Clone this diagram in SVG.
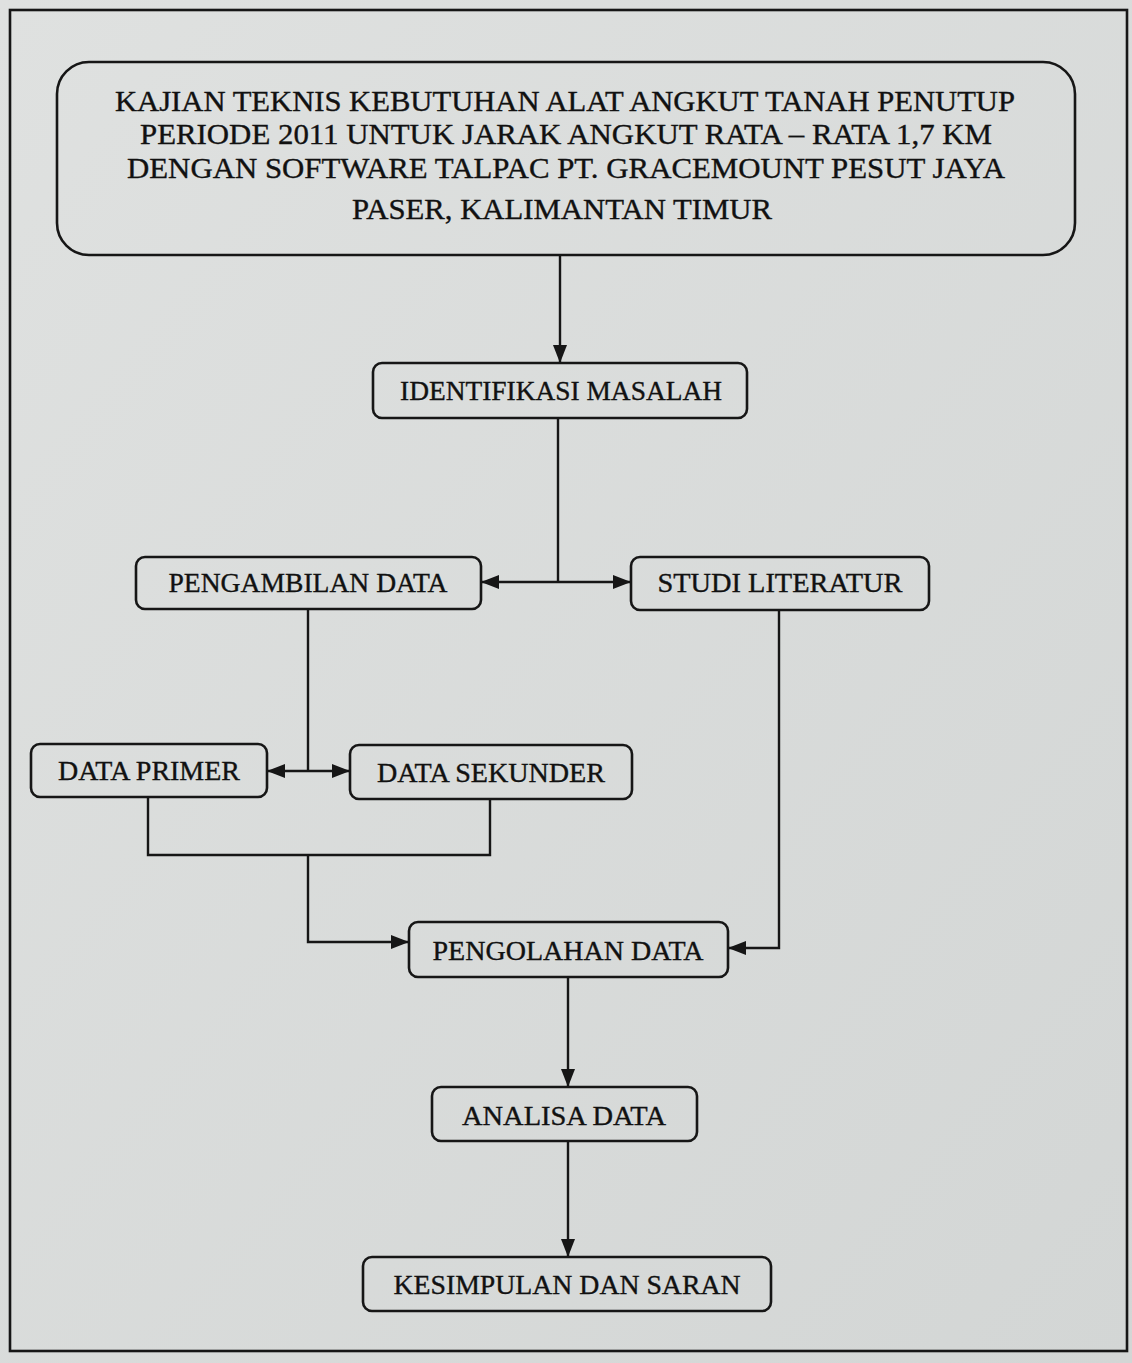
<svg xmlns="http://www.w3.org/2000/svg" width="1132" height="1363" viewBox="0 0 1132 1363">
<defs>
<style>
.box{fill:none;stroke:#161616;stroke-width:2.6}
.ln{fill:none;stroke:#161616;stroke-width:2.4}
.t{font-family:"Liberation Serif","Times New Roman",serif;font-size:27px;fill:#111;stroke:#111;stroke-width:0.35;text-anchor:middle}
.tt{font-size:29px}
</style>
<marker id="ah" viewBox="0 0 18 14" refX="17" refY="7" markerWidth="18" markerHeight="14" markerUnits="userSpaceOnUse" orient="auto">
<path d="M0,0 L18,7 L0,14 Z" fill="#161616"/>
</marker>
<linearGradient id="bg" x1="0" y1="0" x2="1" y2="1">
<stop offset="0" stop-color="#dfe1e0"/>
<stop offset="1" stop-color="#d3d6d5"/>
</linearGradient>
</defs>
<rect x="0" y="0" width="1132" height="1363" fill="url(#bg)"/>
<rect x="10" y="10" width="1117" height="1341" fill="none" stroke="#161616" stroke-width="2.6"/>

<g id="connectors">
<line class="ln" x1="560" y1="256" x2="560" y2="362" marker-end="url(#ah)"/>
<line class="ln" x1="558" y1="418" x2="558" y2="582"/>
<line class="ln" x1="558" y1="582" x2="482" y2="582" marker-end="url(#ah)"/>
<line class="ln" x1="558" y1="582" x2="630" y2="582" marker-end="url(#ah)"/>
<line class="ln" x1="308" y1="609" x2="308" y2="771"/>
<line class="ln" x1="308" y1="771" x2="268" y2="771" marker-end="url(#ah)"/>
<line class="ln" x1="308" y1="771" x2="349" y2="771" marker-end="url(#ah)"/>
<polyline class="ln" points="148,797 148,855 490,855 490,799"/>
<polyline class="ln" points="308,855 308,942 408,942" marker-end="url(#ah)"/>
<polyline class="ln" points="779,610 779,948 729,948" marker-end="url(#ah)"/>
<line class="ln" x1="568" y1="977" x2="568" y2="1086" marker-end="url(#ah)"/>
<line class="ln" x1="568" y1="1141" x2="568" y2="1256" marker-end="url(#ah)"/>
</g>

<g id="title">
<rect class="box" x="57" y="62" width="1018" height="193" rx="32"/>
<text class="t tt" x="565" y="111" textLength="900" lengthAdjust="spacingAndGlyphs">KAJIAN TEKNIS KEBUTUHAN ALAT ANGKUT TANAH PENUTUP</text>
<text class="t tt" x="566" y="144" textLength="852" lengthAdjust="spacingAndGlyphs">PERIODE 2011 UNTUK JARAK ANGKUT RATA – RATA 1,7 KM</text>
<text class="t tt" x="566" y="178" textLength="878" lengthAdjust="spacingAndGlyphs">DENGAN SOFTWARE TALPAC PT. GRACEMOUNT PESUT JAYA</text>
<text class="t tt" x="562" y="219" textLength="420" lengthAdjust="spacingAndGlyphs">PASER, KALIMANTAN TIMUR</text>
</g>

<g id="identifikasi">
<rect class="box" x="373" y="363" width="374" height="55" rx="9"/>
<text class="t" x="561" y="400" textLength="322" lengthAdjust="spacingAndGlyphs">IDENTIFIKASI MASALAH</text>
</g>

<g id="pengambilan">
<rect class="box" x="136" y="557" width="345" height="52" rx="9"/>
<text class="t" x="308" y="592" textLength="279" lengthAdjust="spacingAndGlyphs">PENGAMBILAN DATA</text>
</g>

<g id="studi">
<rect class="box" x="631" y="557" width="298" height="53" rx="9"/>
<text class="t" x="780" y="592" textLength="245" lengthAdjust="spacingAndGlyphs">STUDI LITERATUR</text>
</g>

<g id="primer">
<rect class="box" x="31" y="744" width="236" height="53" rx="9"/>
<text class="t" x="149" y="780" textLength="182" lengthAdjust="spacingAndGlyphs">DATA PRIMER</text>
</g>

<g id="sekunder">
<rect class="box" x="350" y="745" width="282" height="54" rx="9"/>
<text class="t" x="491" y="782" textLength="228" lengthAdjust="spacingAndGlyphs">DATA SEKUNDER</text>
</g>

<g id="pengolahan">
<rect class="box" x="409" y="922" width="319" height="55" rx="9"/>
<text class="t" x="568" y="960" textLength="271" lengthAdjust="spacingAndGlyphs">PENGOLAHAN DATA</text>
</g>

<g id="analisa">
<rect class="box" x="432" y="1087" width="265" height="54" rx="9"/>
<text class="t" x="564" y="1125" textLength="204" lengthAdjust="spacingAndGlyphs">ANALISA DATA</text>
</g>

<g id="kesimpulan">
<rect class="box" x="363" y="1257" width="408" height="54" rx="9"/>
<text class="t" x="567" y="1294" textLength="347" lengthAdjust="spacingAndGlyphs">KESIMPULAN DAN SARAN</text>
</g>
</svg>
